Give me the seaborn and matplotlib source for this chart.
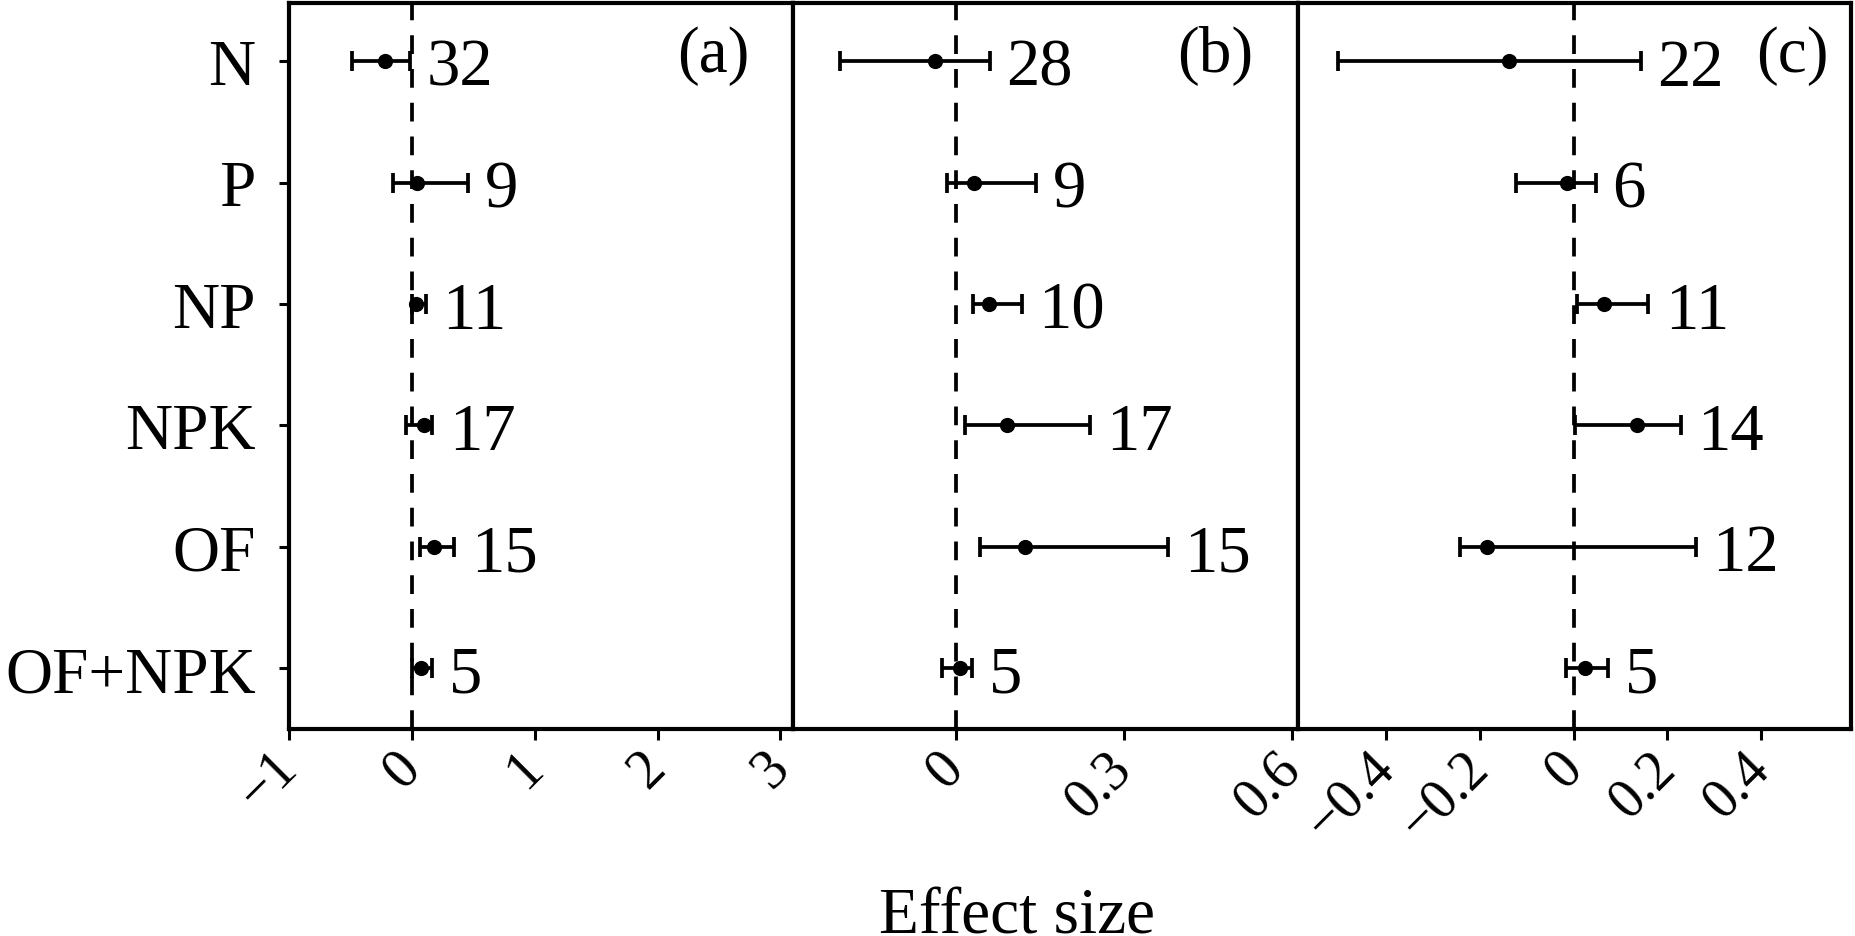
import numpy as np
import pandas as pd
import matplotlib
matplotlib.use("Agg")
import matplotlib.pyplot as plt
import seaborn as sns

treatments = ["N", "P", "NP", "NPK", "OF", "OF+NPK"]

# panel (a)
a_mean = [-0.217, 0.040, 0.030, 0.095, 0.184, 0.076]
a_low = [-0.489, -0.150, 0.000, -0.049, 0.068, 0.000]
a_high = [-0.014, 0.456, 0.114, 0.168, 0.344, 0.163]
a_n = [32, 9, 11, 17, 15, 5]

# panel (b)
b_mean = [-0.036, 0.033, 0.060, 0.092, 0.124, 0.008]
b_low = [-0.206, -0.016, 0.031, 0.017, 0.043, -0.024]
b_high = [0.061, 0.143, 0.118, 0.239, 0.378, 0.030]
b_n = [28, 9, 10, 17, 15, 5]

# panel (c)
c_mean = [-0.138, -0.015, 0.065, 0.135, -0.186, 0.024]
c_low = [-0.504, -0.123, 0.006, 0.002, -0.244, -0.017]
c_high = [0.143, 0.047, 0.159, 0.228, 0.260, 0.074]
c_n = [22, 6, 11, 14, 12, 5]

a_ticks = [-1, 0, 1, 2, 3]
a_ticklabels = ["\u22121", "0", "1", "2", "3"]
b_ticks = [0, 0.3, 0.6]
b_ticklabels = ["0", "0.3", "0.6"]
c_ticks = [-0.4, -0.2, 0, 0.2, 0.4]
c_ticklabels = ["\u22120.4", "\u22120.2", "0", "0.2", "0.4"]

panel_letters = ["(a)", "(b)", "(c)"]
x_label = "Effect size"

sns.set_theme(style="white")
plt.rcParams["font.family"] = ["Liberation Serif", "DejaVu Serif"]
plt.rcParams["axes.unicode_minus"] = True
for key in ["text.color", "axes.labelcolor", "xtick.color", "ytick.color",
            "axes.edgecolor", "xtick.labelcolor", "ytick.labelcolor"]:
    plt.rcParams[key] = "black"

fig = plt.figure(figsize=(18.55, 9.37), dpi=100)
W, H = 1855.0, 937.0
bottom = 1 - 730 / H
height = (730 - 4) / H
lefts = [289, 792.7, 1298]
rights = [792.7, 1298, 1851]
xlims = [(-1.0, 3.1), (-0.29, 0.61), (-0.589, 0.592)]
letter_pos = [0.915, 0.912, 0.96]

panels = [
    (a_mean, a_low, a_high, a_n, a_ticks, a_ticklabels),
    (b_mean, b_low, b_high, b_n, b_ticks, b_ticklabels),
    (c_mean, c_low, c_high, c_n, c_ticks, c_ticklabels),
]

LW = 2.7
SPW = 3.0
for i, (mean, low, high, n, ticks, tlabels) in enumerate(panels):
    ax = fig.add_axes([lefts[i] / W, bottom, (rights[i] - lefts[i]) / W, height])
    df = pd.DataFrame({"treat": treatments, "mean": mean, "low": low,
                       "high": high, "n": n})
    ax.axvline(0, color="black", lw=LW, ls=(0, (5, 4)), zorder=1)
    ax.errorbar(df["mean"], df["treat"],
                xerr=[df["mean"] - df["low"], df["high"] - df["mean"]],
                fmt="none", ecolor="black", elinewidth=LW, capsize=7.5,
                capthick=LW, zorder=2)
    sns.scatterplot(data=df, x="mean", y="treat", color="black", s=120,
                    edgecolor="black", linewidth=0, ax=ax, zorder=3)
    for k in range(len(df)):
        ax.annotate(str(df["n"][k]), xy=(df["high"][k], k),
                    xytext=(12, 0), textcoords="offset points",
                    ha="left", va="center_baseline", fontsize=48,
                    color="black")
    ax.text(letter_pos[i], 0.928, panel_letters[i], transform=ax.transAxes,
            ha="right", va="center", fontsize=47, color="black")
    ax.set_xlim(*xlims[i])
    ax.set_ylim(5.5, -0.48)
    ax.set_xticks(ticks)
    ax.set_xticklabels(tlabels, rotation=45, ha="right",
                       rotation_mode="anchor", va="center")
    ax.tick_params(axis="x", direction="out", length=8, width=2.2,
                   labelsize=40, pad=14, color="black", labelcolor="black",
                   bottom=True)
    ax.set_xlabel(None)
    ax.set_ylabel(None)
    if i == 0:
        ax.set_yticks(range(len(treatments)))
        ax.set_yticklabels(treatments)
        ax.tick_params(axis="y", direction="out", length=7, width=2.2,
                       labelsize=47, pad=17, color="black",
                       labelcolor="black", left=True)
    else:
        ax.set_yticks([])
    for sp in ax.spines.values():
        sp.set_visible(True)
        sp.set_color("black")
        sp.set_linewidth(SPW)
    ax.grid(False)
    ax.set_facecolor("white")

fig.text(1016.7 / W, 3 / H, x_label, ha="center", va="baseline",
         fontsize=47, color="black")

fig.savefig("out.png", dpi=100, facecolor="white")
